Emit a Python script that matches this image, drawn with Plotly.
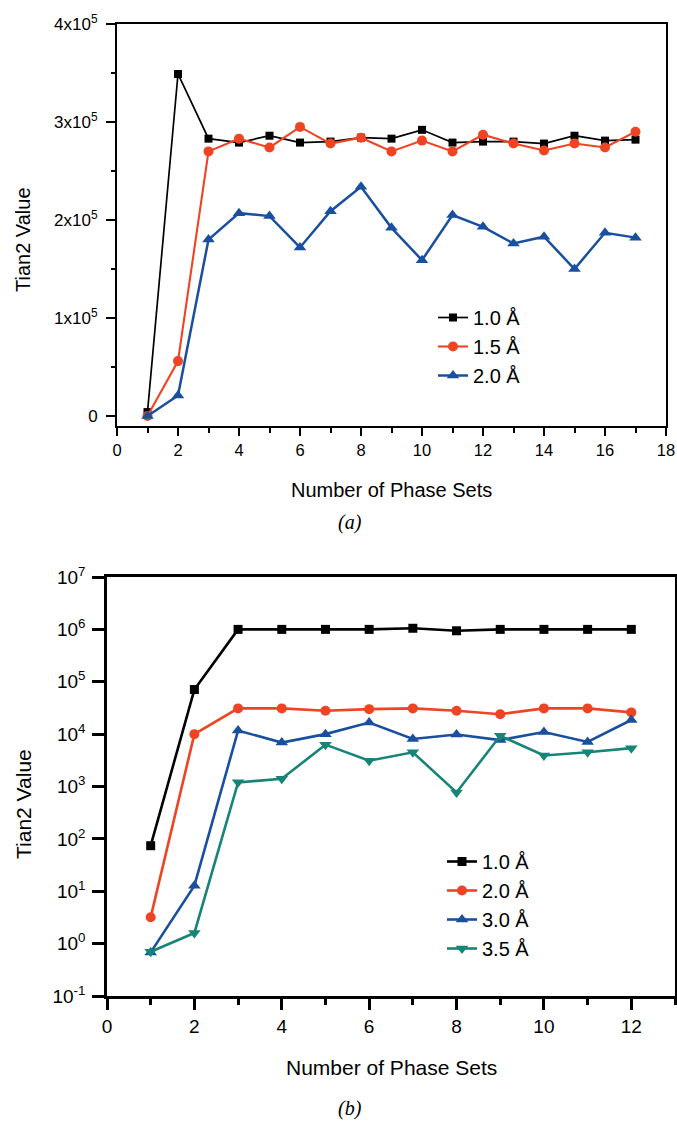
import plotly.graph_objects as go

# ---------------- data: panel (a) ----------------
a_x = list(range(1, 18))
a_10 = [4000, 349000, 283000, 279000, 286000, 279000, 280000, 284000, 283000,
        292000, 279000, 280000, 280000, 278000, 286000, 281000, 282000]
a_15 = [0, 56000, 270000, 283000, 274000, 295000, 278000, 284000, 270000,
        281000, 270000, 287000, 278000, 271000, 278000, 274000, 290000]
a_20 = [0, 21000, 180000, 207000, 204000, 172000, 209000, 234000, 192000,
        159000, 205000, 193000, 176000, 183000, 150000, 187000, 182000]
a_names = ["1.0 Å", "1.5 Å", "2.0 Å"]
a_yticks = [0, 100000, 200000, 300000, 400000]
a_yticktext = ["0", "1x10<sup>5</sup>", "2x10<sup>5</sup>", "3x10<sup>5</sup>", "4x10<sup>5</sup>"]
a_xticks = [0, 2, 4, 6, 8, 10, 12, 14, 16, 18]

# ---------------- data: panel (b) ----------------
b_x = list(range(1, 13))
b_10 = [74, 71000, 1.0e6, 1.0e6, 1.0e6, 1.0e6, 1.05e6, 0.94e6, 1.0e6, 1.0e6, 1.0e6, 1.0e6]
b_20 = [3.2, 1.0e4, 3.1e4, 3.1e4, 2.8e4, 3.0e4, 3.1e4, 2.8e4, 2.4e4, 3.1e4, 3.1e4, 2.6e4]
b_30 = [0.68, 12.8, 1.17e4, 6.9e3, 1.0e4, 1.66e4, 8.1e3, 9.8e3, 7.7e3, 1.1e4, 7.1e3, 1.86e4]
b_35 = [0.70, 1.6, 1.2e3, 1.4e3, 6.3e3, 3.1e3, 4.5e3, 770, 9.3e3, 3.9e3, 4.5e3, 5.4e3]
b_names = ["1.0 Å", "2.0 Å", "3.0 Å", "3.5 Å"]
b_yticks = [0.1, 1, 10, 100, 1e3, 1e4, 1e5, 1e6, 1e7]
b_yticktext = ["10<sup>-1</sup>", "10<sup>0</sup>", "10<sup>1</sup>", "10<sup>2</sup>",
               "10<sup>3</sup>", "10<sup>4</sup>", "10<sup>5</sup>", "10<sup>6</sup>", "10<sup>7</sup>"]
b_xticks = [0, 2, 4, 6, 8, 10, 12]

x_title = "Number of Phase Sets"
y_title = "Tian2 Value"

# ---------------- styles ----------------
BLACK = "#000000"
RED = "#EF4423"
BLUE = "#1A4FA0"
TEAL = "#168477"
FONT = "Liberation Sans, Arial, sans-serif"
W, H = 677, 1123


def px_x(p):
    return p / W


def px_y(p):
    return 1 - p / H


fig = go.Figure()

a_series = [(a_10, BLACK, "square", 8, 1.7), (a_15, RED, "circle", 10, 2.1),
            (a_20, BLUE, "triangle-up", 11, 2.5)]
for (vals, col, sym, ms, lw), name in zip(a_series, a_names):
    fig.add_trace(go.Scatter(x=a_x, y=vals, name=name, mode="lines+markers",
                             line=dict(color=col, width=lw),
                             marker=dict(color=col, symbol=sym, size=ms),
                             xaxis="x", yaxis="y", legend="legend"))

b_series = [(b_10, BLACK, "square", 9, 2.6), (b_20, RED, "circle", 10, 2.6),
            (b_30, BLUE, "triangle-up", 11, 2.6), (b_35, TEAL, "triangle-down", 11, 2.6)]
for (vals, col, sym, ms, lw), name in zip(b_series, b_names):
    fig.add_trace(go.Scatter(x=b_x, y=vals, name=name, mode="lines+markers",
                             line=dict(color=col, width=lw),
                             marker=dict(color=col, symbol=sym, size=ms),
                             xaxis="x2", yaxis="y2", legend="legend2"))

axis_common = dict(showline=True, linecolor="black", mirror=True, showgrid=False,
                   zeroline=False, ticks="outside", tickcolor="black", automargin=False)

fig.update_layout(
    width=W, height=H,
    margin=dict(l=0, r=0, t=0, b=0, autoexpand=False),
    paper_bgcolor="white", plot_bgcolor="white",
    font=dict(family=FONT, color="black"),
    xaxis=dict(domain=[px_x(117), px_x(666)], range=[0, 18], anchor="y",
               tickvals=a_xticks, linewidth=2, ticklen=8, tickwidth=2,
               tickfont=dict(size=16.5),
               minor=dict(dtick=1, ticks="outside", ticklen=5, tickwidth=2, tickcolor="black",
                          showgrid=False),
               **axis_common),
    yaxis=dict(domain=[px_y(426), px_y(24)], range=[-10200, 400000], anchor="x",
               tickvals=a_yticks, ticktext=a_yticktext, linewidth=2, ticklen=9, tickwidth=2,
               tickfont=dict(size=17), ticklabelstandoff=5,
               minor=dict(tickvals=[50000, 150000, 250000, 350000], ticks="outside",
                          ticklen=4, tickwidth=2, tickcolor="black", showgrid=False),
               **axis_common),
    xaxis2=dict(domain=[px_x(107), px_x(675)], range=[0, 13], anchor="y2",
                tickvals=b_xticks, linewidth=2.5, ticklen=11, tickwidth=2.5,
                tickfont=dict(size=19),
                minor=dict(dtick=1, ticks="outside", ticklen=6, tickwidth=2.5, tickcolor="black",
                           showgrid=False),
                **axis_common),
    yaxis2=dict(domain=[px_y(996), px_y(577)], type="log", range=[-1, 7], anchor="x2",
                tickvals=b_yticks, ticktext=b_yticktext, linewidth=2.5, ticklen=12, tickwidth=2.5,
                tickfont=dict(size=19), ticklabelstandoff=3,
                **axis_common),
    legend=dict(x=px_x(433), y=px_y(298), xanchor="left", yanchor="top",
                bgcolor="rgba(0,0,0,0)", font=dict(size=20, family=FONT),
                itemwidth=30),
    legend2=dict(x=px_x(442), y=px_y(842), xanchor="left", yanchor="top",
                 bgcolor="rgba(0,0,0,0)", font=dict(size=20, family=FONT),
                 itemwidth=30),
    showlegend=True,
)

annos = [
    dict(text=x_title, x=px_x(391), y=px_y(490), font=dict(size=20)),
    dict(text=x_title, x=px_x(391), y=px_y(1067), font=dict(size=21)),
    dict(text=y_title, x=px_x(23), y=px_y(240), textangle=-90, font=dict(size=20)),
    dict(text=y_title, x=px_x(23), y=px_y(804), textangle=-90, font=dict(size=21)),
    dict(text="<i>(a)</i>", x=px_x(350), y=px_y(522),
         font=dict(size=20, family="Liberation Serif, DejaVu Serif, serif")),
    dict(text="<i>(b)</i>", x=px_x(350), y=px_y(1108),
         font=dict(size=20, family="Liberation Serif, DejaVu Serif, serif")),
]
for a in annos:
    fig.add_annotation(xref="paper", yref="paper", showarrow=False,
                       xanchor="center", yanchor="middle", **a)

fig.write_html(
    "out.html",
    config={"displayModeBar": False},
    post_script="document.body.style.margin='0';document.body.style.padding='0';"
                "document.body.style.overflow='hidden';",
)
